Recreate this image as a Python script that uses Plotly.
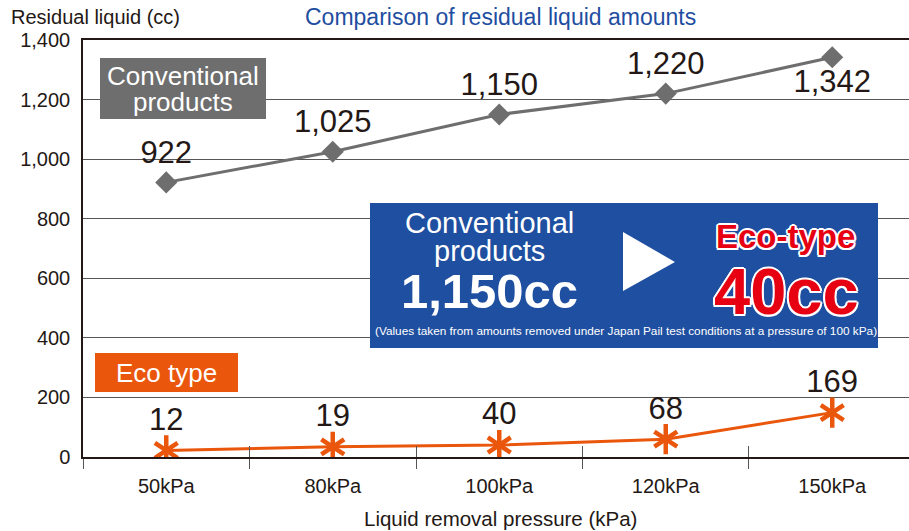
import plotly.graph_objects as go

# ---------------- data ----------------
pressures = ["50kPa", "80kPa", "100kPa", "120kPa", "150kPa"]
conventional = [922, 1025, 1150, 1220, 1342]
conventional_labels = ["922", "1,025", "1,150", "1,220", "1,342"]
eco_values = [22, 34, 40, 60, 149]          # positions as drawn in the picture
eco_labels = ["12", "19", "40", "68", "169"]  # labels as printed
y_ticks = [0, 200, 400, 600, 800, 1000, 1200, 1400]

# ---------------- styles ----------------
GRAY = "#6e6e6e"
ORANGE = "#e9560c"
BLUE = "#1f4fa0"
TXT = "#231815"
RED = "#e60012"
FONT = "Liberation Sans, Arial, sans-serif"

fig = go.Figure()

fig.add_trace(go.Scatter(
    x=pressures, y=conventional, mode="lines+markers+text",
    line=dict(color=GRAY, width=3),
    marker=dict(symbol="diamond", size=17, color=GRAY),
    text=conventional_labels,
    textposition=["top center"] * 4 + ["bottom center"],
    textfont=dict(family=FONT, size=31, color=TXT),
    hoverinfo="skip", showlegend=False,
))

fig.add_trace(go.Scatter(
    x=pressures, y=eco_values, mode="lines+markers+text",
    line=dict(color=ORANGE, width=3),
    marker=dict(symbol="y-up-open", size=19, color=ORANGE,
                line=dict(color=ORANGE, width=4.5)),
    text=eco_labels, textposition="top center",
    textfont=dict(family=FONT, size=31, color=TXT),
    hoverinfo="skip", showlegend=False,
))
fig.add_trace(go.Scatter(
    x=pressures, y=eco_values, mode="markers",
    marker=dict(symbol="y-down-open", size=19, color=ORANGE,
                line=dict(color=ORANGE, width=4.5)),
    hoverinfo="skip", showlegend=False,
))
# invisible trace on the overlay axis (carries the inner tick marks)
fig.add_trace(go.Scatter(
    x=pressures, y=conventional, mode="markers", xaxis="x2",
    marker=dict(opacity=0), hoverinfo="skip", showlegend=False,
))

xr = [-0.5, 4.461]
fig.update_layout(
    width=909, height=531,
    margin=dict(l=83, r=0, t=40, b=74),
    paper_bgcolor="white", plot_bgcolor="white",
    font=dict(family=FONT, color=TXT),
    xaxis=dict(
        type="category", categoryorder="array", categoryarray=pressures,
        range=xr, showgrid=False, zeroline=False,
        showline=True, linecolor=TXT, linewidth=1.5, mirror=True,
        ticks="outside", tickson="boundaries", ticklen=10,
        tickcolor="#555", tickwidth=1, ticklabelstandoff=10,
        tickfont=dict(size=20, color=TXT),
    ),
    xaxis2=dict(
        type="category", categoryorder="array", categoryarray=pressures,
        overlaying="x", anchor="y", range=xr, showgrid=False,
        zeroline=False, showline=False, showticklabels=False,
        ticks="inside", tickson="boundaries", ticklen=11,
        tickcolor="#555", tickwidth=1,
    ),
    yaxis=dict(
        range=[0, 1400], tickvals=y_ticks, tickformat=",",
        showgrid=True, gridcolor="#555", gridwidth=1,
        zeroline=False, showline=True, linecolor=TXT, linewidth=1.5,
        ticks="", ticklabelstandoff=7, tickfont=dict(size=20, color=TXT),
    ),
)

def px(xp):
    return (xp - 83) / 826

def py(yp):
    return (457 - yp) / 417

shapes = [
    dict(type="rect", xref="paper", yref="paper",
         x0=px(100), x1=px(266), y0=py(119), y1=py(58),
         fillcolor=GRAY, line=dict(width=0), layer="above"),
    dict(type="rect", xref="paper", yref="paper",
         x0=px(95), x1=px(238), y0=py(392), y1=py(353),
         fillcolor=ORANGE, line=dict(width=0), layer="above"),
    dict(type="rect", xref="paper", yref="paper",
         x0=px(370), x1=px(878), y0=py(348), y1=py(203),
         fillcolor=BLUE, line=dict(width=0), layer="above"),
    dict(type="path", xref="paper", yref="paper",
         path=f"M{px(623)},{py(232)} L{px(675)},{py(262)} L{px(623)},{py(291)} Z",
         fillcolor="white", line=dict(width=0), layer="above"),
]
fig.update_layout(shapes=shapes)

outline = ("2px 0 0 white, -2px 0 0 white, 0 2px 0 white, 0 -2px 0 white, "
           "1.5px 1.5px 0 white, -1.5px -1.5px 0 white, 1.5px -1.5px 0 white, -1.5px 1.5px 0 white")

ann = [
    dict(text="Comparison of residual liquid amounts", x=px(500), y=py(17),
         font=dict(size=23, color="#1f4ea1")),
    dict(text="Residual liquid (cc)", x=px(9), y=py(17), xanchor="left",
         font=dict(size=20, color=TXT)),
    dict(text="Liquid removal pressure (kPa)", x=px(500), y=py(518),
         font=dict(size=20.5, color=TXT)),
    dict(text="Conventional", x=px(183), y=py(76),
         font=dict(size=26, color="white")),
    dict(text="products", x=px(183), y=py(102),
         font=dict(size=26, color="white")),
    dict(text="Eco type", x=px(166), y=py(373),
         font=dict(size=26, color="white")),
    dict(text="Conventional", x=px(489), y=py(223),
         font=dict(size=29, color="white")),
    dict(text="products", x=px(489), y=py(251),
         font=dict(size=29, color="white")),
    dict(text="<b>1,150cc</b>", x=px(489), y=py(291),
         font=dict(size=49, color="white")),
    dict(text="<b>Eco-type</b>", x=px(785), y=py(237),
         font=dict(size=33, color=RED, shadow=outline)),
    dict(text="<b>40cc</b>", x=px(786), y=py(291),
         font=dict(size=65, color=RED, shadow=outline)),
    dict(text="(Values taken from amounts removed under Japan Pail test conditions at a pressure of 100 kPa)",
         x=px(626), y=py(331),
         font=dict(family=FONT, size=11.8, color="white")),
]
for a in ann:
    a.update(xref="paper", yref="paper", showarrow=False,
             xanchor=a.get("xanchor", "center"), yanchor="middle")
fig.update_layout(annotations=ann)

fig.write_html("out.html", config={"displayModeBar": False},
               post_script="document.body.style.margin='0';document.body.style.padding='0';")
